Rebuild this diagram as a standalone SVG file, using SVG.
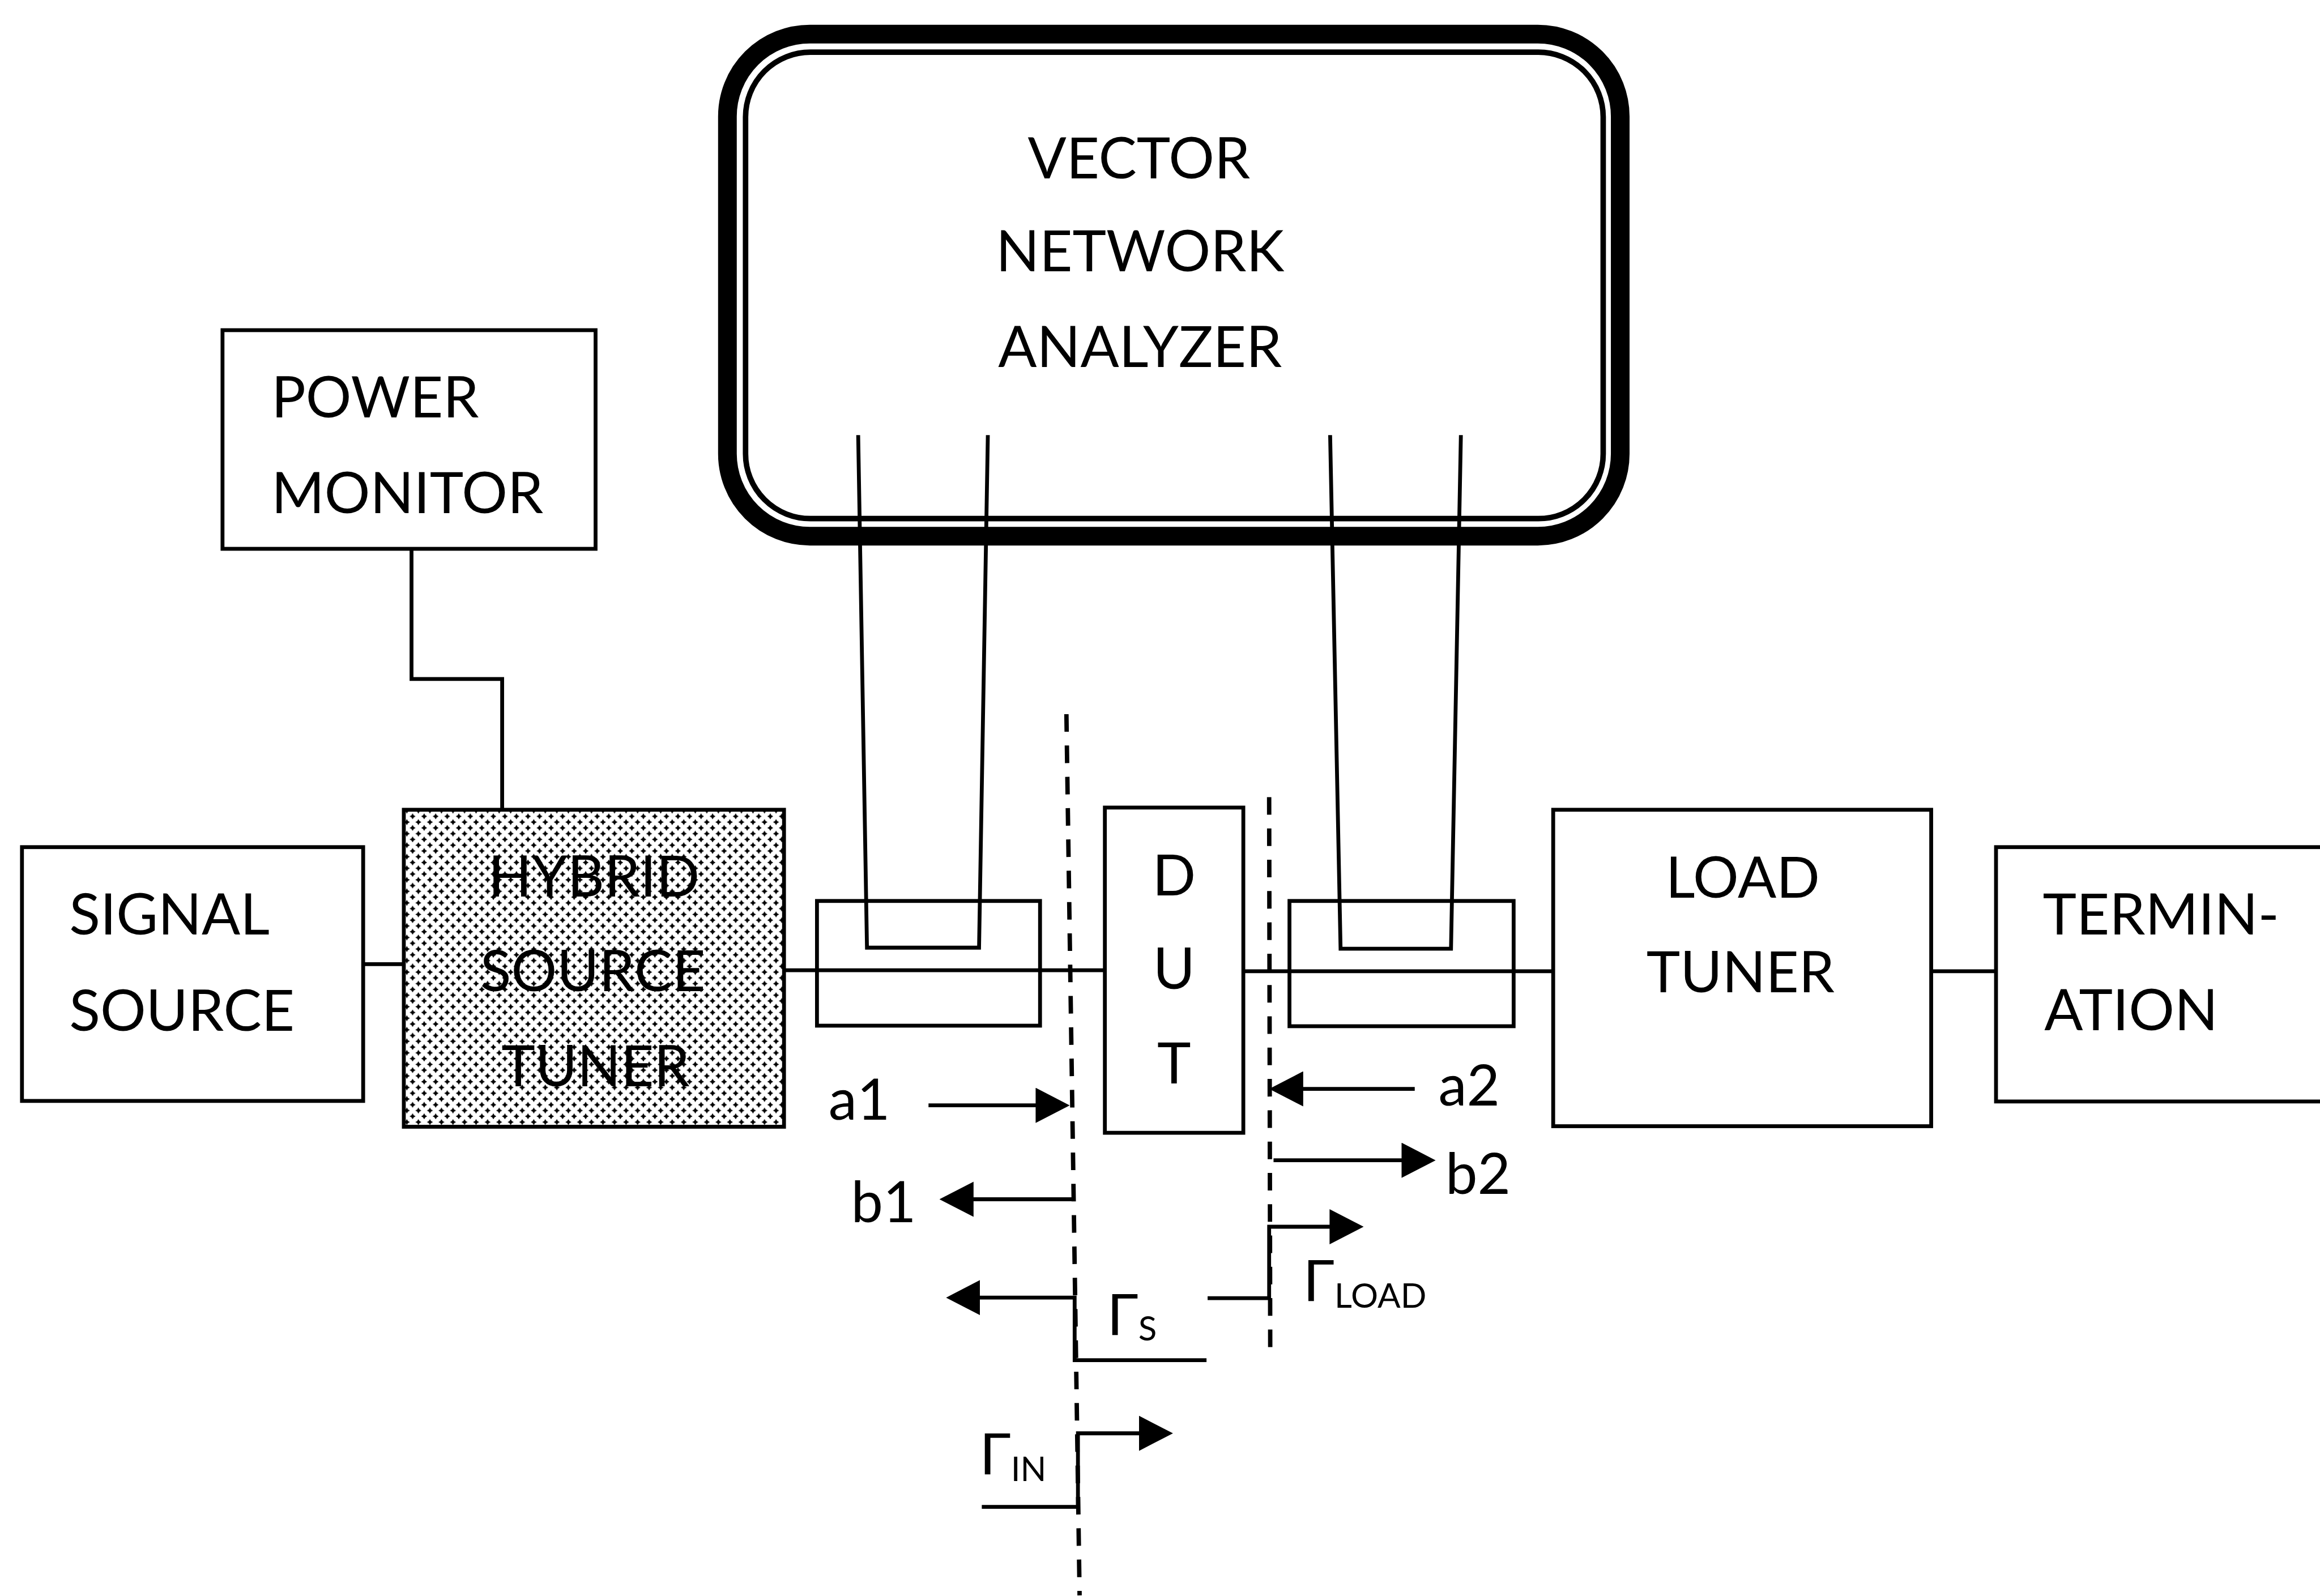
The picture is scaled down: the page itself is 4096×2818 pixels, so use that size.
<svg xmlns="http://www.w3.org/2000/svg" width="4096" height="2818" viewBox="0 0 4096 2818">
<defs>
<style>
.box{fill:#fff;stroke:#000;stroke-width:7}
.open{fill:none;stroke:#000;stroke-width:7}
.ln{fill:none;stroke:#000;stroke-width:7}
.ref{fill:none;stroke:#000;stroke-width:8;stroke-dasharray:32 25}
.t{font-family:Lato,'Open Sans','DejaVu Sans',sans-serif;font-size:104px;fill:#000}
.sub{font-size:62px}
</style>
<pattern id="hatch" patternUnits="userSpaceOnUse" width="21" height="21">
<rect width="21" height="21" fill="#fff"/>
<path d="M5.5,0 L7.5,3.5 L11,5.5 L7.5,7.5 L5.5,11 L3.5,7.5 L0,5.5 L3.5,3.5Z" fill="#000"/>
<path d="M16,10.5 L18,14 L21.5,16 L18,18 L16,21.5 L14,18 L10.5,16 L14,14Z" fill="#000"/>
</pattern>
<marker id="ah" viewBox="0 0 62 64" refX="42" refY="32" markerWidth="62" markerHeight="64" markerUnits="userSpaceOnUse" orient="auto"><path d="M0,0L62,32L0,64Z" fill="#000"/></marker>
</defs>
<rect width="4096" height="2818" fill="#fff"/>
<g transform="scale(0.97)">
<g id="vna">
<rect x="1324" y="62" width="1625" height="914" rx="150" fill="#fff" stroke="#000" stroke-width="34"/>
<rect x="1357" y="95" width="1561" height="849" rx="118" fill="none" stroke="#000" stroke-width="10"/>
<text class="t" x="2073" y="325" text-anchor="middle">VECTOR</text>
<text class="t" x="2075" y="494" text-anchor="middle">NETWORK</text>
<text class="t" x="2075" y="668" text-anchor="middle">ANALYZER</text>
</g>
<g id="power-monitor">
<rect class="box" x="405" y="601" width="679" height="398"/>
<text class="t" x="494" y="760">POWER</text>
<text class="t" x="494" y="934">MONITOR</text>
</g>
<g id="signal-source">
<rect class="box" x="40" y="1542" width="621" height="462"/>
<text class="t" x="126" y="1701">SIGNAL</text>
<text class="t" x="126" y="1876">SOURCE</text>
</g>
<g id="hybrid-source-tuner">
<rect x="735" y="1474" width="692" height="577" fill="url(#hatch)" stroke="#000" stroke-width="7"/>
<text class="t" x="1081" y="1632" text-anchor="middle">HYBRID</text>
<text class="t" x="1079" y="1804" text-anchor="middle">SOURCE</text>
<text class="t" x="1084" y="1977" text-anchor="middle">TUNER</text>
</g>
<g id="dut">
<rect class="box" x="2011" y="1470" width="252" height="592"/>
<text class="t" x="2137" y="1630" text-anchor="middle">D</text>
<text class="t" x="2137" y="1800" text-anchor="middle">U</text>
<text class="t" x="2137" y="1972" text-anchor="middle">T</text>
</g>
<g id="load-tuner">
<rect class="box" x="2827" y="1474" width="688" height="576"/>
<text class="t" x="3172" y="1634" text-anchor="middle">LOAD</text>
<text class="t" x="3168" y="1806" text-anchor="middle">TUNER</text>
</g>
<g id="termination">
<rect class="box" x="3633" y="1542" width="700" height="463"/>
<text class="t" x="3718" y="1701">TERMIN-</text>
<text class="t" x="3721" y="1875">ATION</text>
</g>
<g id="coupler-1">
<rect class="open" x="1487" y="1640" width="406" height="227"/>
</g>
<g id="coupler-2">
<rect class="open" x="2347" y="1640" width="408" height="228"/>
</g>
<g id="connectors">
<path class="ln" d="M749,999 V1236 H914 V1474"/>
<path class="ln" d="M661,1755 H735"/>
<path class="ln" d="M1427,1766 H2011"/>
<path class="ln" d="M2263,1768 H2827"/>
<path class="ln" d="M3515,1768 H3633"/>
<path class="ln" d="M1562,792 L1578,1725 H1782 L1798,792"/>
<path class="ln" d="M2421,792 L2440,1727 H2641 L2659,792"/>
<path class="ref" d="M1941,1300 L1965,2904"/>
<path class="ref" d="M2310,1451 L2312,2471"/>
<path class="ln" d="M1690,2012 H1927" marker-end="url(#ah)"/>
<path class="ln" d="M2575,1982 H2330" marker-end="url(#ah)"/>
<path class="ln" d="M1953,2183 H1730" marker-end="url(#ah)"/>
<path class="ln" d="M2318,2112 H2593" marker-end="url(#ah)"/>
<path class="ln" d="M2196,2476 H1956 V2362 H1742" marker-end="url(#ah)"/>
<path class="ln" d="M2198,2363 H2310 V2233 H2462" marker-end="url(#ah)"/>
<path class="ln" d="M1787,2743 H1962 V2609 H2115" marker-end="url(#ah)"/>
</g>
<g id="labels">
<text class="t" x="1508" y="2038">a1</text>
<text class="t" x="2618" y="2012">a2</text>
<text class="t" x="1549" y="2225">b1</text>
<text class="t" x="2631" y="2173">b2</text>
<text class="t" x="2015" y="2430">Γ<tspan class="sub" dy="10">S</tspan></text>
<text class="t" x="2372" y="2368">Γ<tspan class="sub" dy="12">LOAD</tspan></text>
<text class="t" x="1783" y="2683">Γ<tspan class="sub" dy="13">IN</tspan></text>
</g>
</g>
</svg>
